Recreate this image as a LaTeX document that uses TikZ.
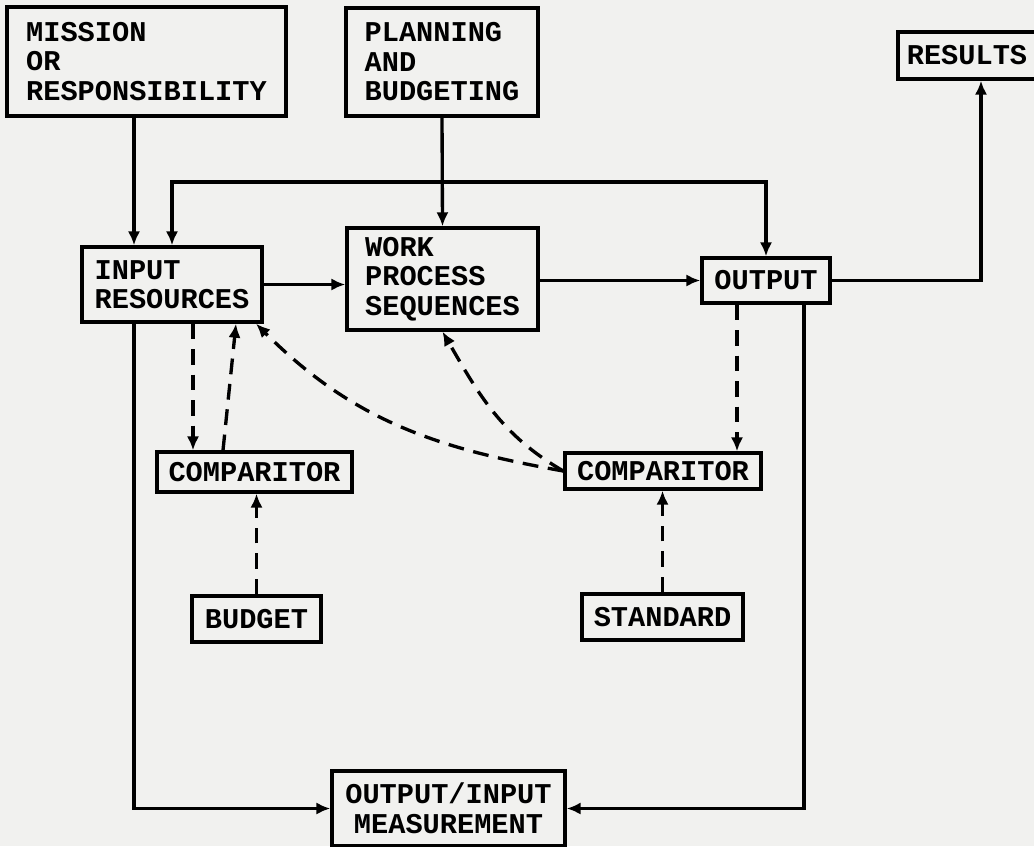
\documentclass[tikz,border=0pt]{standalone}
\usepackage{fontspec}
\setmonofont{Liberation Mono}
\usepackage{tikz}
\usetikzlibrary{arrows.meta}
\definecolor{paper}{RGB}{241,241,239}

\begin{document}
\begin{tikzpicture}[>={Latex[length=8pt,width=7pt]}, line width=1.9pt,
         box/.style={
         % The shape:
         rectangle,
         % The border
         draw=black, line width=1.9pt,
         % Font
         font=\ttfamily\bfseries\fontsize{16.3pt}{16.8pt}\selectfont,
         align=left, inner sep=0pt},
         feed/.style={dash pattern=on 9pt off 5.5pt}]
   \fill[paper] (0,0) rectangle (20.68,-16.92);
   \useasboundingbox (0,0) rectangle (20.68,-16.92);

   \node[box, minimum width=5.58cm, minimum height=2.18cm] (mission) at (2.93,-1.23) {MISSION\\OR\\RESPONSIBILITY};
   \node[box, minimum width=3.84cm, minimum height=2.16cm] (planning) at (8.84,-1.24) {PLANNING\\AND\\BUDGETING};
   \node[box, minimum width=2.76cm, minimum height=0.94cm] (results) at (19.34,-1.11) {RESULTS};
   \node[box, minimum width=3.6cm, minimum height=1.5cm] (input) at (3.44,-5.69) {INPUT\\RESOURCES};
   \node[box, minimum width=3.82cm, minimum height=2.04cm] (work) at (8.85,-5.58) {WORK\\PROCESS\\SEQUENCES};
   \node[box, minimum width=2.56cm, minimum height=0.9cm] (output) at (15.32,-5.61) {OUTPUT};
   \node[box, minimum width=3.9cm, minimum height=0.8cm] (compL) at (5.09,-9.44) {COMPARITOR};
   \node[box, minimum width=3.92cm, minimum height=0.72cm] (compR) at (13.26,-9.42) {COMPARITOR};
   \node[box, minimum width=2.58cm, minimum height=0.92cm] (budget) at (5.13,-12.38) {BUDGET};
   \node[box, minimum width=3.22cm, minimum height=0.92cm] (standard) at (13.25,-12.34) {STANDARD};
   \node[box, align=center, minimum width=4.66cm, minimum height=1.5cm] (measure) at (8.97,-16.17) {OUTPUT/INPUT\\MEASUREMENT};

   \coordinate (xa) at (2.68,0);
   \coordinate (xi) at (3.86,0);
   \coordinate (xu1) at (4.46,0);
   \coordinate (xu2) at (4.72,0);
   \coordinate (xd) at (14.74,0);
   \coordinate (xo) at (16.08,0);
   \coordinate (xr) at (19.62,0);
   \coordinate (ytop) at (0,-3.64);

   % solid flow
   \draw[->] (mission.south -| xa) -- (input.north -| xa);
   \draw[->] (planning.south) -- (work.north);
   \draw[->] (input.east) -- (input.east -| work.west);
   \draw[->] (work.east |- output.west) -- (output.west);
   \draw[->] (output.east) -| (xr |- results.south);
   \draw[<->] (output.north) -- (output.north |- ytop) -| (input.north);
   \draw[->] (input.south -| xa) |- (measure.west);
   \draw[->] (output.south -| xo) |- (measure.east);

   % dashed feedback
   \draw[feed, ->] (input.south -| xi) -- (compL.north -| xi);
   \draw[feed, ->] (compL.north -| xu1) -- (input.south -| xu2);
   \draw[feed, ->] (budget.north) -- (budget.north |- compL.south);
   \draw[feed, ->] (output.south -| xd) -- (compR.north -| xd);
   \draw[feed, ->] (standard.north) -- (standard.north |- compR.south);
   \draw[feed, ->] (compR.west) to[out=170, in=-45] (input.-25);
   \draw[feed, ->] (compR.west) to[out=150, in=-60] (work.south);
\end{tikzpicture}
\end{document}
